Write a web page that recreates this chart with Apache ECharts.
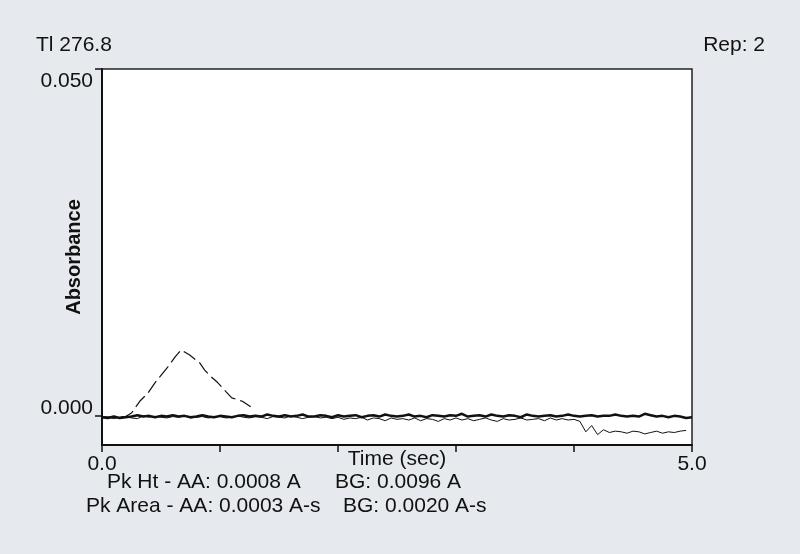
<!DOCTYPE html>
<html><head><meta charset="utf-8">
<script src="https://cdn.jsdelivr.net/npm/echarts@6/dist/echarts.min.js"></script>
<style>html,body{margin:0;padding:0;background:#e6eaee;}#c{width:800px;height:554px;}</style>
</head><body><div id="c"></div>
<script>
const titleLeft = 'Tl 276.8';
const titleRight = 'Rep: 2';
const xAxisName = 'Time (sec)';
const yAxisName = 'Absorbance';
const statLines = ['Pk Ht - AA: 0.0008 A', 'BG: 0.0096 A', 'Pk Area - AA: 0.0003 A-s', 'BG: 0.0020 A-s'];
const yTickValues = [0, 0.05];
const xTickLabels = {0: '0.0', 5: '5.0'};

const sampleTimes = [
0.00,0.05,0.10,0.15,0.20,0.25,0.30,0.35,0.40,0.45,
0.50,0.55,0.60,0.65,0.70,0.75,0.80,0.85,0.90,0.95,
1.00,1.05,1.10,1.15,1.20,1.25,1.30,1.35,1.40,1.45,
1.50,1.55,1.60,1.65,1.70,1.75,1.80,1.85,1.90,1.95,
2.00,2.05,2.10,2.15,2.20,2.25,2.30,2.35,2.40,2.45,
2.50,2.55,2.60,2.65,2.70,2.75,2.80,2.85,2.90,2.95,
3.00,3.05,3.10,3.15,3.20,3.25,3.30,3.35,3.40,3.45,
3.50,3.55,3.60,3.65,3.70,3.75,3.80,3.85,3.90,3.95,
4.00,4.05,4.10,4.15,4.20,4.25,4.30,4.35,4.40,4.45,
4.50,4.55,4.60,4.65,4.70,4.75,4.80,4.85,4.90,4.95,
5.00];

const aaThick = [
-0.0002,-0.0003,-0.0001,-0.0003,-0.0002,-0.0001,0.0001,-0.0001,0.0000,-0.0002,
0.0000,-0.0001,0.0001,-0.0001,0.0000,-0.0002,-0.0001,0.0001,-0.0001,-0.0002,
0.0000,-0.0001,-0.0002,0.0000,0.0001,-0.0001,0.0000,-0.0001,0.0002,0.0000,
-0.0001,0.0001,-0.0001,0.0000,0.0002,-0.0001,-0.0001,0.0001,0.0000,-0.0002,
0.0001,-0.0001,0.0000,0.0001,-0.0002,0.0000,0.0001,-0.0001,0.0002,0.0000,
-0.0001,0.0000,0.0002,-0.0001,0.0000,-0.0002,0.0001,0.0000,-0.0001,0.0001,
0.0000,0.0003,-0.0001,0.0000,0.0001,-0.0001,0.0002,0.0000,-0.0001,0.0001,
0.0000,-0.0002,0.0002,0.0000,-0.0001,0.0000,0.0001,-0.0001,0.0000,0.0002,
0.0000,-0.0001,0.0000,0.0001,-0.0001,0.0000,0.0000,0.0002,0.0000,-0.0001,
0.0000,-0.0001,0.0003,0.0001,-0.0001,0.0000,-0.0002,0.0000,-0.0001,-0.0003,
-0.0002];

const aaThin = [
-0.0003,-0.0002,-0.0004,-0.0002,-0.0001,-0.0003,-0.0004,0.0000,-0.0002,-0.0001,
-0.0002,-0.0003,-0.0001,-0.0002,0.0000,-0.0003,-0.0002,-0.0001,-0.0003,-0.0002,
-0.0001,-0.0003,-0.0002,0.0000,-0.0002,-0.0003,-0.0001,-0.0002,-0.0004,-0.0001,
-0.0002,-0.0003,0.0000,-0.0002,-0.0004,-0.0002,-0.0001,-0.0003,-0.0002,-0.0004,
-0.0002,-0.0005,-0.0003,-0.0004,-0.0002,-0.0006,-0.0003,-0.0004,-0.0007,-0.0003,
-0.0005,-0.0004,-0.0006,-0.0003,-0.0007,-0.0004,-0.0005,-0.0008,-0.0004,-0.0006,
-0.0003,-0.0006,-0.0004,-0.0007,-0.0005,-0.0003,-0.0006,-0.0008,-0.0004,-0.0006,
-0.0005,-0.0003,-0.0006,-0.0005,-0.0004,-0.0007,-0.0003,-0.0006,-0.0004,-0.0006,
-0.0005,-0.0008,-0.0023,-0.0014,-0.0027,-0.0020,-0.0024,-0.0022,-0.0023,-0.0025,
-0.0022,-0.0023,-0.0026,-0.0024,-0.0022,-0.0025,-0.0023,-0.0024,-0.0022,-0.0021];

const bgTimes = [0.00,0.10,0.20,0.25,0.32,0.39,0.45,0.56,0.62,0.67,0.74,0.83,0.87,0.92,0.98,1.05,1.10,1.19,1.26];
const bgValues = [-0.0001,-0.0002,-0.0001,0.0004,0.0021,0.0033,0.0048,0.0071,0.0085,0.0095,0.0088,0.0076,0.0066,0.0057,0.0048,0.0035,0.0026,0.0021,0.0013];

function pairs(xs, ys){ return ys.map((v,i)=>[xs[i], v]); }

const FONT = 'Liberation Sans, Arial, sans-serif';
const chart = echarts.init(document.getElementById('c'), null, {renderer:'canvas'});
chart.setOption({
  backgroundColor: '#e6eaee',
  animation: false,
  title: [
    {text: titleLeft, left: 36, top: 35, padding: 0, textStyle:{fontFamily:FONT, fontSize:21, fontWeight:'normal', color:'#111'}},
    {text: titleRight, right: 35, top: 35, padding: 0, textStyle:{fontFamily:FONT, fontSize:21, fontWeight:'normal', color:'#111'}},
    {text: statLines[0], left: 107, top: 472, padding: 0, textStyle:{fontFamily:FONT, fontSize:21, fontWeight:'normal', color:'#111'}},
    {text: statLines[1], left: 335, top: 472, padding: 0, textStyle:{fontFamily:FONT, fontSize:21, fontWeight:'normal', color:'#111'}},
    {text: statLines[2], left: 86, top: 496, padding: 0, textStyle:{fontFamily:FONT, fontSize:21, fontWeight:'normal', color:'#111'}},
    {text: statLines[3], left: 343, top: 496, padding: 0, textStyle:{fontFamily:FONT, fontSize:21, fontWeight:'normal', color:'#111'}}
  ],
  grid: {left: 102, right: 108, top: 69, bottom: 109, show: true, backgroundColor: '#ffffff', borderColor: '#222', borderWidth: 1.5},
  xAxis: {
    type: 'value', min: 0, max: 5, interval: 1,
    name: xAxisName, nameLocation: 'middle', nameGap: 4, nameMoveOverlap: false,
    nameTextStyle: {fontFamily: FONT, fontSize: 21, color: '#111', verticalAlign: 'top'},
    axisLine: {show: true, onZero: false, lineStyle: {color: '#111', width: 2}},
    axisTick: {show: true, inside: false, length: 7, lineStyle: {color: '#111', width: 1.5}},
    axisLabel: {margin: 9, fontFamily: FONT, fontSize: 21, color: '#111',
      formatter: v => (xTickLabels[v] !== undefined ? xTickLabels[v] : '')},
    splitLine: {show: false}
  },
  yAxis: {
    type: 'value', min: -0.0042, max: 0.05,
    name: yAxisName, nameLocation: 'middle', nameGap: 18, nameRotate: 90, nameMoveOverlap: false,
    nameTextStyle: {fontFamily: FONT, fontSize: 20, fontWeight: 'bold', color: '#111', verticalAlign: 'bottom'},
    axisLine: {show: true, onZero: false, lineStyle: {color: '#111', width: 2}},
    axisTick: {show: true, length: 7, customValues: yTickValues, lineStyle: {color: '#111', width: 1.5}},
    axisLabel: {margin: 9, fontFamily: FONT, fontSize: 21, color: '#111', customValues: yTickValues,
      showMaxLabel: true, showMinLabel: true,
      formatter: v => (v > 0.01 ? '{hi|' + v.toFixed(3) + '}' : '{lo|' + v.toFixed(3) + '}'),
      rich: {
        hi: {fontFamily: FONT, fontSize: 21, color: '#111', padding: [24, 0, 0, 0]},
        lo: {fontFamily: FONT, fontSize: 21, color: '#111', padding: [0, 0, 16, 0]}
      }},
    splitLine: {show: false}
  },
  series: [
    {type: 'line', name: 'AA-thin', data: pairs(sampleTimes, aaThin), showSymbol: false, symbol: 'none',
      lineStyle: {color: '#111', width: 1}},
    {type: 'line', name: 'AA', data: pairs(sampleTimes, aaThick), showSymbol: false, symbol: 'none',
      lineStyle: {color: '#111', width: 2.5}},
    {type: 'line', name: 'BG', data: pairs(bgTimes, bgValues), showSymbol: false, symbol: 'none',
      lineStyle: {color: '#111', width: 1.2, type: [14, 5]}}
  ]
});
</script></body></html>
